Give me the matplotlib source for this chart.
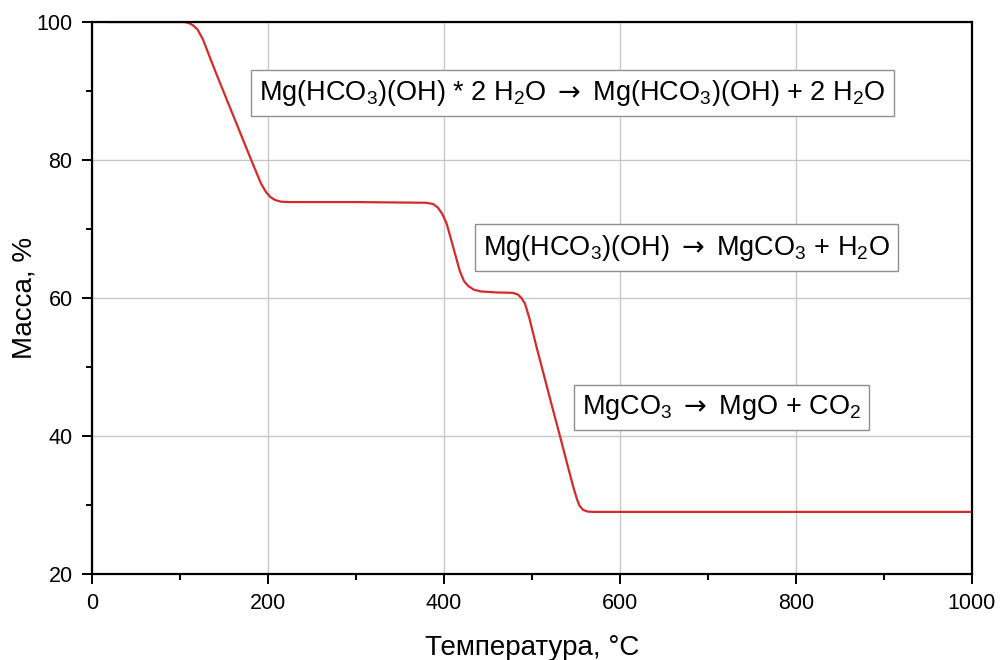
import matplotlib
matplotlib.use("Agg")
import matplotlib.pyplot as plt
from matplotlib.ticker import MultipleLocator

plt.rcParams['font.family'] = ['Liberation Sans', 'DejaVu Sans']
plt.rcParams['mathtext.fontset'] = 'custom'
plt.rcParams['mathtext.rm'] = 'Liberation Sans'
plt.rcParams['mathtext.it'] = 'Liberation Sans:italic'
plt.rcParams['mathtext.sf'] = 'DejaVu Sans'

# данные ТГА
temp = [18, 105, 110, 115, 120, 126, 140, 160, 180, 192, 198, 203, 208, 215, 225, 300,
        380, 388, 393, 398, 403, 410, 418, 423, 428, 434, 442, 460, 478,
        484, 488, 492, 497, 505, 513, 522, 532, 542, 547, 551, 554, 558, 563, 570,
        700, 850, 1000]
mass = [100, 100, 99.85, 99.5, 98.9, 97.5, 92.9, 86.6, 80.3, 76.6, 75.3, 74.6, 74.2, 73.95, 73.9, 73.9,
        73.8, 73.6, 73.1, 72.2, 70.8, 67.6, 63.9, 62.4, 61.7, 61.2, 60.95, 60.8, 60.75,
        60.5, 60.0, 59.2, 57.1, 53.0, 49.1, 44.7, 39.9, 35.0, 32.6, 30.9, 29.9, 29.3, 29.05, 29.0,
        29.0, 29.0, 29.0]

sub = lambda s: r'$\mathregular{_%s}$' % s
arr = r' $\mathsf{\rightarrow}$ '
labels = ['Mg(HCO' + sub(3) + ')(OH) * 2 H' + sub(2) + 'O' + arr + 'Mg(HCO' + sub(3) + ')(OH) + 2 H' + sub(2) + 'O',
          'Mg(HCO' + sub(3) + ')(OH)' + arr + 'MgCO' + sub(3) + ' + H' + sub(2) + 'O',
          'MgCO' + sub(3) + arr + 'MgO + CO' + sub(2)]
label_x = [546, 676, 715]
label_y = [89.7, 67.3, 44.1]

fig = plt.figure(figsize=(10.02, 6.6), dpi=100)
ax = fig.add_axes([0.0918, 0.1303, 0.8782, 0.8364])

ax.plot(temp, mass, color='#d42a2a', lw=1.6)

ax.set_xlim(0, 1000)
ax.set_ylim(20, 100)
ax.xaxis.set_major_locator(MultipleLocator(200))
ax.xaxis.set_minor_locator(MultipleLocator(100))
ax.yaxis.set_major_locator(MultipleLocator(20))
ax.yaxis.set_minor_locator(MultipleLocator(10))
ax.grid(True, which='major', color='#c8c8c8', lw=1)
ax.tick_params(which='major', direction='out', length=7.5, width=1.4, labelsize=15.5, pad=6.5)
ax.tick_params(which='minor', direction='out', length=4, width=1.4)
for s in ax.spines.values():
    s.set_linewidth(1.6)

ax.set_xlabel('Температура, °C', fontsize=20, labelpad=15)
ax.set_ylabel('Масса, %', fontsize=20, labelpad=-1)

for t, x, y in zip(labels, label_x, label_y):
    ax.text(x, y, t, fontsize=19.5, ha='center', va='center',
            bbox=dict(boxstyle='square,pad=0.3', fc='white', ec='#909090', lw=1))

fig.savefig('out.png', dpi=100)
